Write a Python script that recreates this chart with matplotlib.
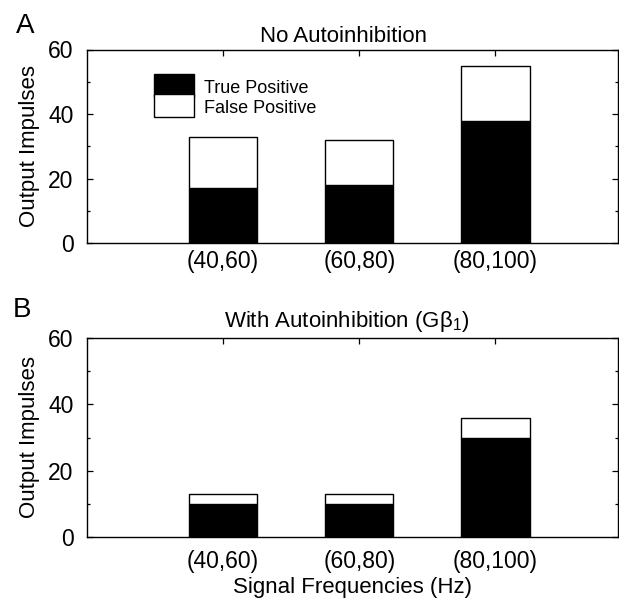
import matplotlib
matplotlib.use("Agg")
import matplotlib.pyplot as plt
from matplotlib.ticker import MultipleLocator, FixedLocator
from matplotlib.patches import Rectangle
from matplotlib.legend_handler import HandlerPatch

plt.rcParams['font.family'] = ['Liberation Sans', 'DejaVu Sans']
plt.rcParams['mathtext.fontset'] = 'custom'
plt.rcParams['mathtext.rm'] = 'Liberation Sans'
plt.rcParams['mathtext.it'] = 'Liberation Sans:italic'

# ---- data ----
categories = ["(40,60)", "(60,80)", "(80,100)"]
positions = [1, 2, 3]
true_pos_A = [17, 18, 38]
false_pos_A = [16, 14, 17]
true_pos_B = [10, 10, 30]
false_pos_B = [3, 3, 6]
yticks = [0, 20, 40, 60]

W, H = 619, 599
fig = plt.figure(figsize=(W / 100, H / 100), dpi=100)

def px_axes(left, top, right, bottom):
    return fig.add_axes([left / W, 1 - bottom / H, (right - left) / W, (bottom - top) / H])

axA = px_axes(87, 49.5, 618, 243.3)
axB = px_axes(87, 338, 618, 537)

def style(ax, tp, fp, xpad):
    b1 = ax.bar(positions, tp, width=0.5, color='black', edgecolor='black', linewidth=1.0)
    b2 = ax.bar(positions, fp, bottom=tp, width=0.5, color='white', edgecolor='black', linewidth=1.0)
    ax.set_xlim(0, 3.9)
    ax.set_ylim(0, 60)
    ax.xaxis.set_major_locator(FixedLocator(positions))
    ax.set_xticklabels(categories)
    ax.yaxis.set_major_locator(FixedLocator(yticks))
    ax.yaxis.set_minor_locator(MultipleLocator(10))
    ax.tick_params(axis='y', which='major', direction='in', left=True, right=True,
                   length=4.0, width=0.9, labelsize=16.5, pad=9.6)
    ax.tick_params(axis='y', which='minor', direction='in', left=True, right=True,
                   length=2.0, width=0.9)
    ax.tick_params(axis='x', which='major', direction='in', top=True, bottom=True,
                   length=4, width=0.9, labelsize=16.5, pad=xpad)
    for s in ax.spines.values():
        s.set_linewidth(1.0)
    ax.set_ylabel("Output Impulses", fontsize=16, labelpad=6)
    return b1, b2

b1, b2 = style(axA, true_pos_A, false_pos_A, 4.5)
style(axB, true_pos_B, false_pos_B, 9.5)


def full_rect(legend, orig_handle, xdescent, ydescent, width, height, fontsize):
    return Rectangle((-xdescent, -ydescent), width, height + ydescent)


h1, h2 = b1.patches[0], b2.patches[0]
axA.legend([h1, h2], ["True Positive", "False Positive"], loc='upper left',
           bbox_to_anchor=((153.5 - 87) / 531, 1 - (77.5 - 49.5) / 193.8),
           frameon=False, fontsize=13, handlelength=2.27, handleheight=1.3,
           labelspacing=0.0, borderpad=0, borderaxespad=0, handletextpad=0.55,
           handler_map={h1: HandlerPatch(patch_func=full_rect),
                        h2: HandlerPatch(patch_func=full_rect)})

axB.set_xlabel("Signal Frequencies (Hz)", fontsize=16, labelpad=3)

fig.text(343.3 / W, 1 - 41.7 / H, "No Autoinhibition", fontsize=16,
         ha='center', va='baseline')
fig.text(346.5 / W, 1 - 326.7 / H, r"With Autoinhibition (G$\mathregular{\beta_1}$)",
         fontsize=16, ha='center', va='baseline')
fig.text(15.5 / W, 1 - 33 / H, "A", fontsize=20, ha='left', va='baseline')
fig.text(13 / W, 1 - 317 / H, "B", fontsize=20, ha='left', va='baseline')

fig.savefig("out.png", dpi=100)
